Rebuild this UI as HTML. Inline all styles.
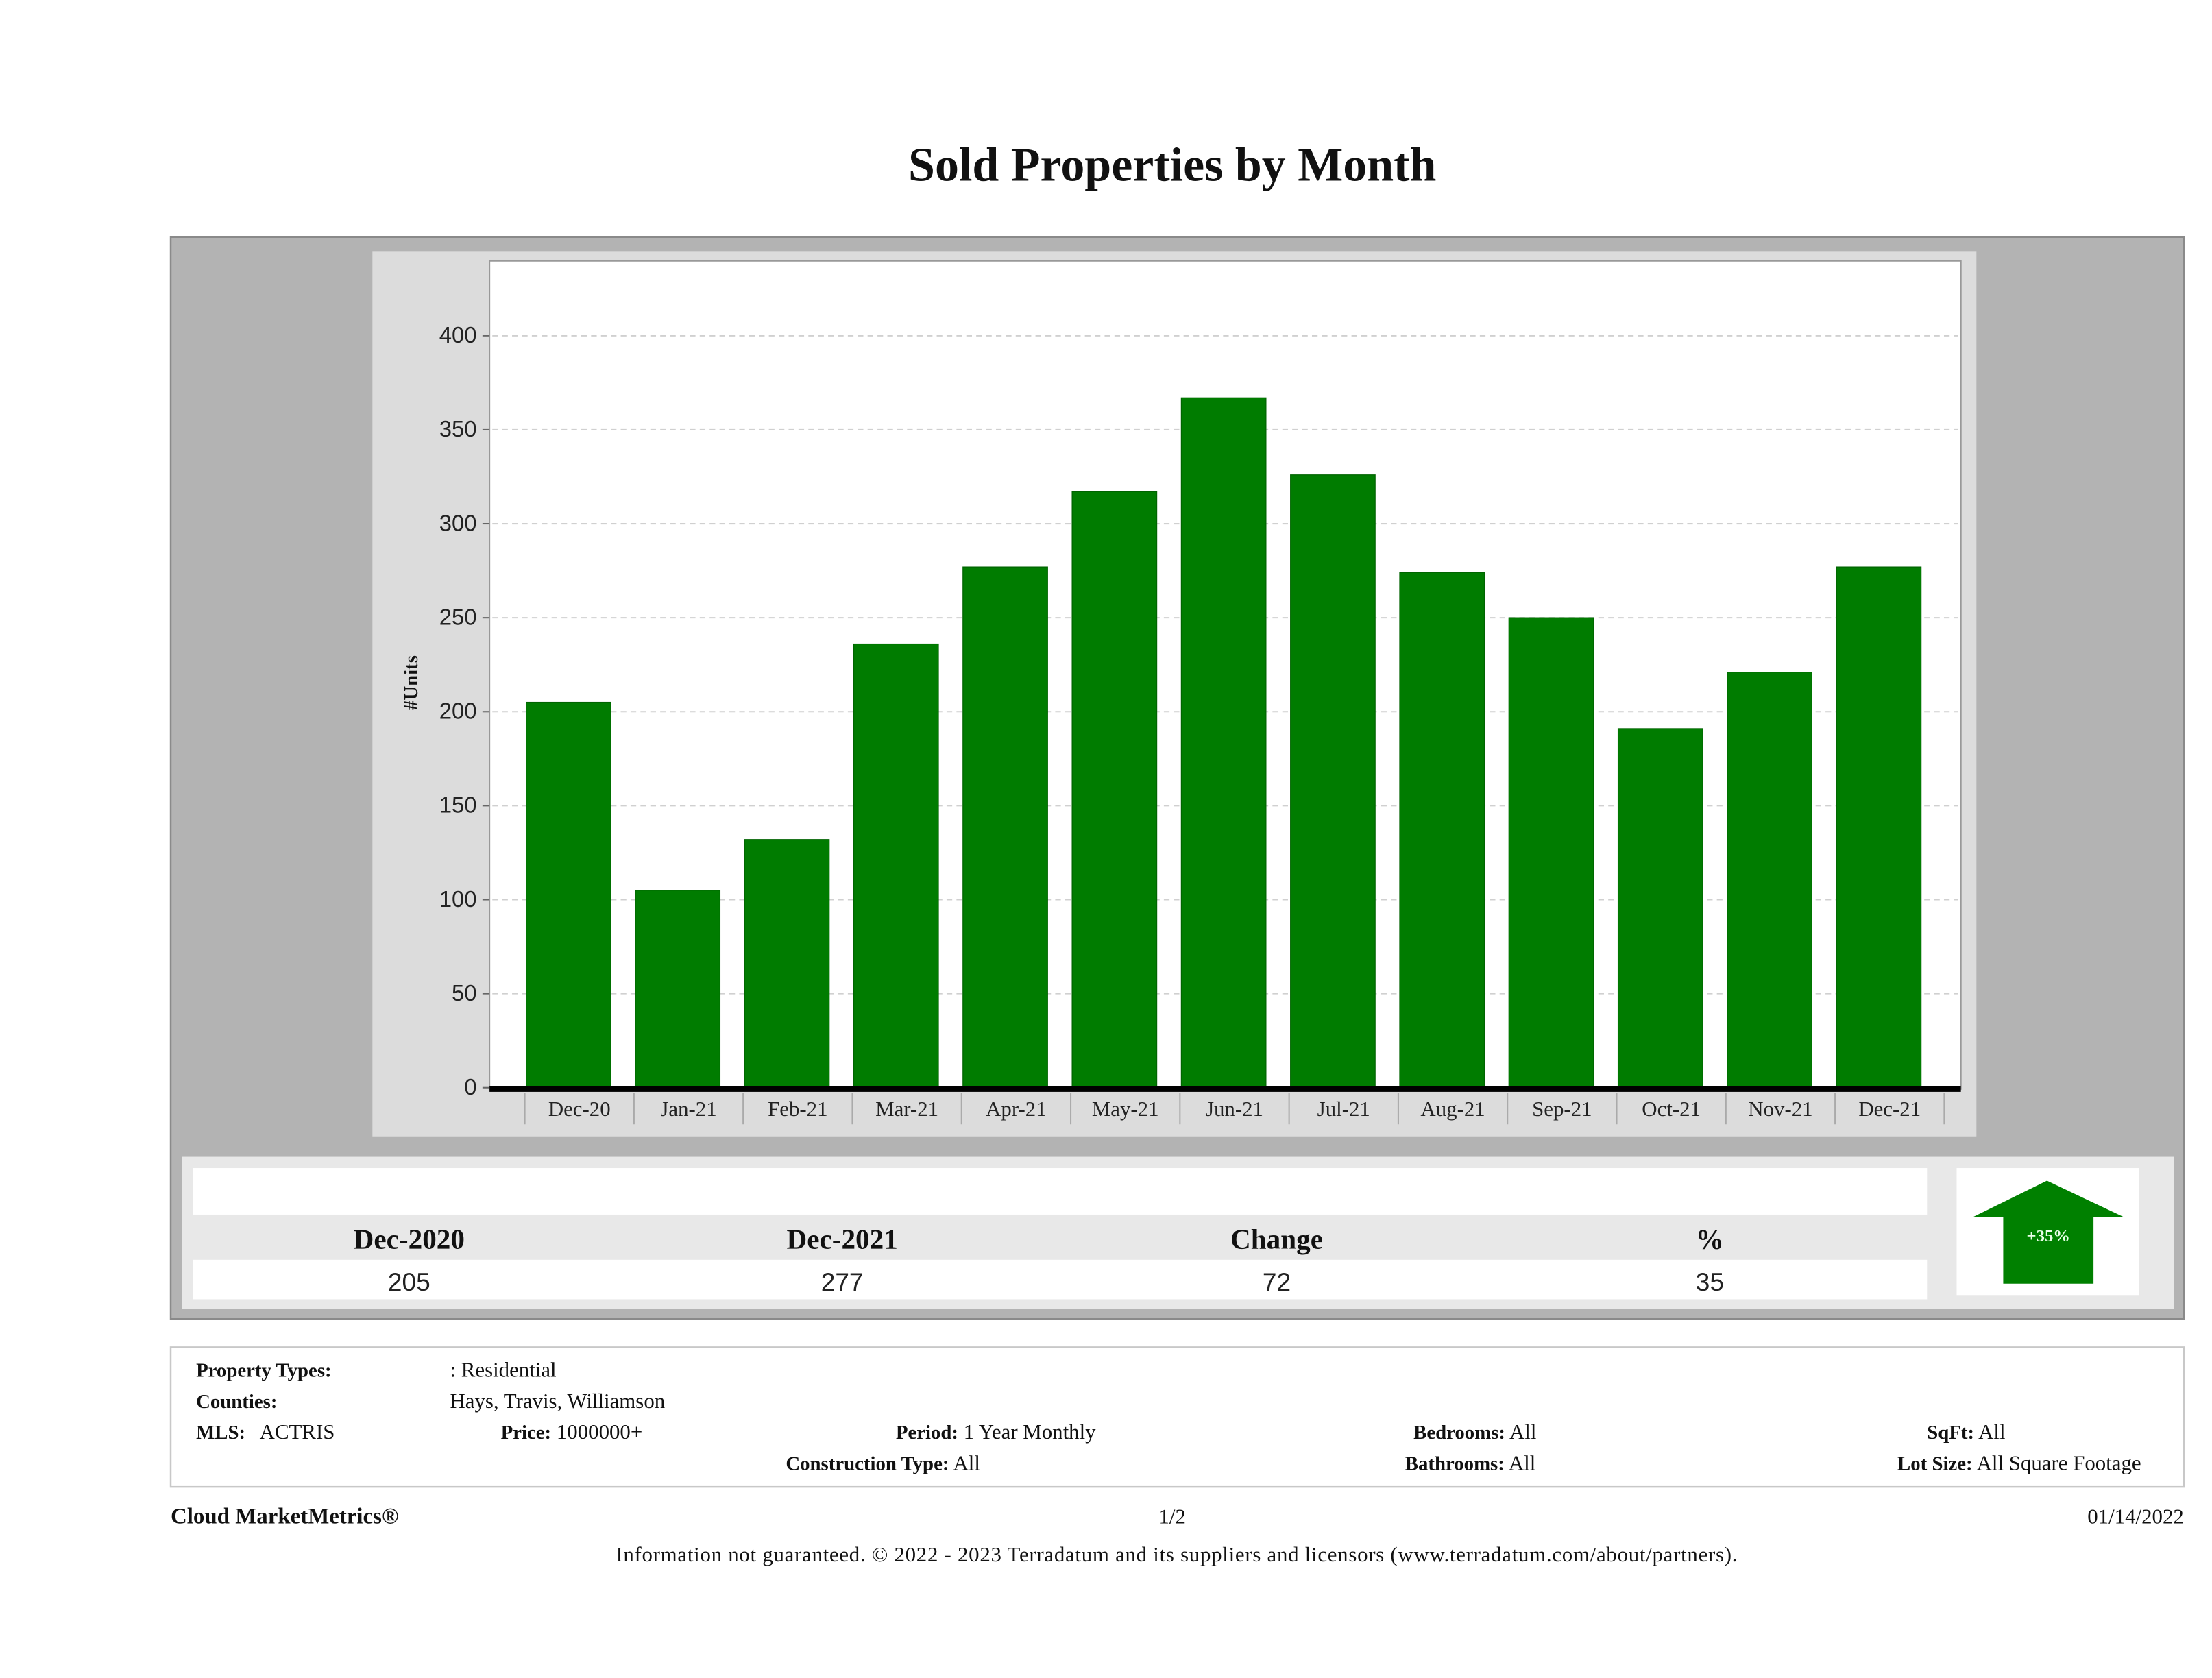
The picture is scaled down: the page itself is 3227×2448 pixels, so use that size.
<!DOCTYPE html>
<html><head><meta charset="utf-8"><style>
html,body{margin:0;padding:0;background:#fff;width:3227px;height:2448px;overflow:hidden}
svg{display:block}
.serif{font-family:"Liberation Serif",serif}
.sans{font-family:"Liberation Sans",sans-serif}
</style></head><body>
<svg id="page" width="3227" height="2448" viewBox="0 0 1568 1189.5" preserveAspectRatio="none" xmlns="http://www.w3.org/2000/svg">
<text class="serif" x="831" y="128" font-size="34" font-weight="bold" text-anchor="middle" fill="#111">Sold Properties by Month</text>
<rect x="121" y="168" width="1427" height="767" fill="#b3b3b3" stroke="#8a8a8a" stroke-width="1.2"/>
<rect x="264" y="178" width="1137" height="628" fill="#dcdcdc"/>
<rect x="347" y="185" width="1043" height="587" fill="#fff" stroke="#999" stroke-width="1"/>
<g id="grid"></g>
<g id="bars"></g>
<g id="xaxis"></g>
<g id="yaxis"></g>
<text class="serif" transform="translate(296,484) rotate(-90)" font-size="14" font-weight="bold" text-anchor="middle" fill="#111">#Units</text>

<rect x="129" y="820" width="1412" height="108" fill="#e8e8e8"/>
<rect x="137" y="828" width="1229" height="33" fill="#fff"/>
<rect x="137" y="893" width="1229" height="28" fill="#fff"/>
<g class="serif" font-size="20" font-weight="bold" fill="#111" text-anchor="middle">
<text x="290" y="885">Dec-2020</text>
<text x="597" y="885">Dec-2021</text>
<text x="905" y="885">Change</text>
<text x="1212" y="885">%</text>
</g>
<g class="sans" font-size="18" fill="#222" text-anchor="middle">
<text x="290" y="915">205</text>
<text x="597" y="915">277</text>
<text x="905" y="915">72</text>
<text x="1212" y="915">35</text>
</g>
<rect x="1387" y="828" width="129" height="90" fill="#fff"/>
<polygon points="1451,837 1506,863 1484,863 1484,910 1420,910 1420,863 1398,863" fill="#008000"/>
<text class="serif" x="1452" y="880" font-size="12" font-weight="bold" fill="#e8ffe8" text-anchor="middle">+35%</text>

<rect x="121" y="955" width="1427" height="99" fill="#fff" stroke="#c8c8c8" stroke-width="1.2"/>
<g class="serif" font-size="15" fill="#111">
<text x="139" y="976" font-weight="bold" font-size="14">Property Types:</text>
<text x="319" y="976">: Residential</text>
<text x="139" y="998" font-weight="bold" font-size="14">Counties:</text>
<text x="319" y="998">Hays, Travis, Williamson</text>
<text x="139" y="1020"><tspan font-weight="bold" font-size="14">MLS:</tspan><tspan x="184">ACTRIS</tspan></text>
<text x="355" y="1020"><tspan font-weight="bold" font-size="14">Price:</tspan> 1000000+</text>
<text x="635" y="1020"><tspan font-weight="bold" font-size="14">Period:</tspan> 1 Year Monthly</text>
<text x="1002" y="1020"><tspan font-weight="bold" font-size="14">Bedrooms:</tspan> All</text>
<text x="1366" y="1020"><tspan font-weight="bold" font-size="14">SqFt:</tspan> All</text>
<text x="557" y="1042"><tspan font-weight="bold" font-size="14">Construction Type:</tspan> All</text>
<text x="996" y="1042"><tspan font-weight="bold" font-size="14">Bathrooms:</tspan> All</text>
<text x="1345" y="1042"><tspan font-weight="bold" font-size="14">Lot Size:</tspan> All Square Footage</text>
</g>
<g class="serif" font-size="15" fill="#111">
<text x="121" y="1080" font-weight="bold" font-size="16">Cloud MarketMetrics®</text>
<text x="831" y="1080" text-anchor="middle">1/2</text>
<text x="1548" y="1080" text-anchor="end">01/14/2022</text>
<text x="834" y="1107" text-anchor="middle" font-size="15" textLength="795">Information not guaranteed. © 2022 - 2023 Terradatum and its suppliers and licensors (www.terradatum.com/about/partners).</text>
</g>
</svg>
<script>
const categories = ["Dec-20","Jan-21","Feb-21","Mar-21","Apr-21","May-21","Jun-21","Jul-21","Aug-21","Sep-21","Oct-21","Nov-21","Dec-21"];
const soldUnits = [205,105,132,236,277,317,367,326,274,250,191,221,277];
const yTicks = [0,50,100,150,200,250,300,350,400];

const NS = "http://www.w3.org/2000/svg";
const x0 = 372, slot = 77.4, barW = 60;
function yScale(v){ return 771 - v * (533/400); }
function xScale(i){ return x0 + i * slot; }
function mk(tag, attrs, parent){
  const el = document.createElementNS(NS, tag);
  for (const k in attrs) el.setAttribute(k, attrs[k]);
  parent.appendChild(el);
  return el;
}
const grid = document.getElementById('grid');
const yaxis = document.getElementById('yaxis');
yTicks.forEach(t => {
  const y = yScale(t);
  if (t > 0) {
    const g = mk('line', {x1:349, x2:1388, y1:y, y2:y, stroke:'#d0d0d0', 'stroke-width':1, 'stroke-dasharray':'4,3'}, grid);
    
    
  }
  const tk = mk('line', {x1:342, x2:347, y1:y, y2:y, stroke:'#666', 'stroke-width':1}, yaxis);
  
  
  const lb = mk('text', {x:338, y:y+5, 'font-size':16, 'text-anchor':'end', fill:'#222', 'font-family':'Liberation Sans, sans-serif'}, yaxis);
  lb.textContent = t;
  
  
});
const bars = document.getElementById('bars');
soldUnits.forEach((v, i) => {
  const y = yScale(v);
  const r = mk('rect', {x:xScale(i)+1, y:y, width:barW, height:yScale(0)-y, fill:'#007c00', stroke:'#006400', 'stroke-width':0.6}, bars);
  
  
});
const xaxis = document.getElementById('xaxis');
const base = mk('rect', {x:347, y:770, width:1043, height:4, fill:'#000'}, xaxis);


for (let i = 0; i <= categories.length; i++) {
  const s = mk('line', {x1:xScale(i), x2:xScale(i), y1:775, y2:797, stroke:'#aaa', 'stroke-width':1}, xaxis);
  
  
}
categories.forEach((c, i) => {
  const t = mk('text', {x:xScale(i)+slot/2, y:791, 'font-size':15, 'text-anchor':'middle', fill:'#222', 'font-family':'Liberation Serif, serif'}, xaxis);
  t.textContent = c;
  
  
});
</script>
</body></html>
